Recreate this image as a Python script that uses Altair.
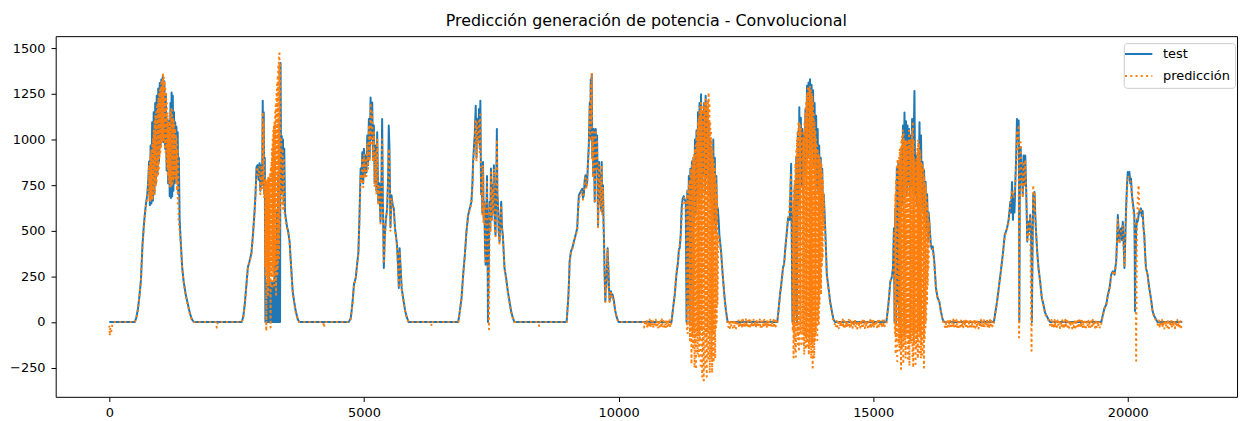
import altair as alt
import pandas as pd

TITLE = "Predicción generación de potencia - Convolucional"
SERIES = ["test", "predicción"]
COLORS = ["#1f77b4", "#ff7f0e"]
X_TICKS = [0, 5000, 10000, 15000, 20000]
Y_TICKS = [-250, 0, 250, 500, 750, 1000, 1250, 1500]

# ---------------- test (blue): (x, y) readings ----------------
test_d1 = [(0,0),(500,0),(530,25),(560,70),(590,140),(620,230),(650,420),(680,540),(700,600),(720,650),(745,700),(765,780),(780,880),
           (795,640),(810,968),(825,650),(840,1095),(855,665),(870,1150),(885,700),(900,1200),(915,760),(930,1240),(945,810),(960,1280),
           (975,880),(990,1310),(1005,960),(1020,1330),(1035,990),(1050,1349),(1065,985),(1080,1320),(1095,950),(1110,1250),(1125,830),
           (1140,1110),(1155,760),(1170,1100),(1185,690),(1200,1200),(1210,680),(1222,1258),(1234,690),(1246,1240),(1258,720),(1270,1150),
           (1282,760),(1294,1095),(1306,770),(1318,1070),(1330,786),(1342,1040),(1354,700),(1365,900),(1380,560),(1400,450),(1430,300),
           (1460,220),(1500,150),(1540,100),(1580,50),(1620,15),(1660,0)]
test_d2 = [(2600,0),(2630,30),(2660,100),(2690,200),(2720,300),(2750,330),(2790,380),(2820,480),(2850,600),(2870,700),(2890,850),
           (2910,860),(2930,780),(2950,870),(2965,720),(2985,860),(3000,750),(3012,1213),(3022,800),(3032,1150),(3042,700),(3052,900),
           (3064,0),(3076,220),(3088,0),(3100,210),(3112,0),(3124,760),(3136,0),(3148,230),(3160,0),(3172,200),(3184,0),(3196,220),
           (3208,0),(3220,210),(3232,0),(3244,300),(3256,0),(3268,400),(3280,0),(3292,600),(3304,0),(3316,800),(3328,0),(3340,1100),
           (3352,0),(3362,1420),(3372,800),(3385,1020),(3398,700),(3410,1000),(3422,650),(3435,950),(3450,600),(3470,560),(3490,520),
           (3510,500),(3540,440),(3570,300),(3600,170),(3630,110),(3660,60),(3700,15),(3730,0)]
test_d3 = [(4700,0),(4740,20),(4773,100),(4805,210),(4838,240),(4870,330),(4890,380),(4910,560),(4935,841),(4950,780),(4968,931),
           (4985,760),(5000,950),(5015,800),(5032,913),(5048,820),(5065,1022),(5080,860),(5097,1113),(5113,900),(5130,1231),(5145,1000),
           (5162,1204),(5178,900),(5195,1077),(5210,760),(5228,968),(5244,720),(5260,1040),(5280,659),(5300,760),(5325,550),(5345,800),
           (5357,1113),(5370,700),(5390,296),(5410,477),(5430,560),(5455,623),(5475,800),(5487,1077),(5500,960),(5520,520),(5540,695),
           (5565,640),(5585,623),(5610,514),(5630,470),(5650,423),(5670,300),(5685,187),(5700,405),(5714,330),(5740,187),(5779,114),
           (5810,60),(5844,24),(5877,0)]
test_d4 = [(6851,0),(6883,60),(6916,132),(6948,260),(6981,368),(7013,496),(7046,586),(7078,623),(7110,659),(7130,760),(7143,877),
           (7160,960),(7175,1022),(7195,1186),(7210,900),(7221,1113),(7240,1000),(7260,1168),(7275,950),(7286,1213),(7300,700),(7312,804),
           (7325,600),(7338,877),(7352,550),(7364,659),(7378,400),(7390,314),(7405,600),(7416,800),(7428,400),(7435,0),(7450,300),
           (7468,659),(7481,500),(7494,841),(7507,560),(7520,750),(7536,600),(7552,859),(7568,550),(7584,477),(7597,700),(7610,1058),
           (7620,700),(7630,659),(7646,500),(7662,441),(7680,560),(7695,659),(7710,520),(7727,477),(7760,296),(7792,241),(7825,169),
           (7857,114),(7890,60),(7922,24),(7954,0)]
test_d5 = [(8980,0),(9000,80),(9013,132),(9030,250),(9039,332),(9065,387),(9091,405),(9123,441),(9156,477),(9188,514),(9205,620),
           (9221,695),(9253,713),(9286,731),(9300,680),(9318,695),(9335,780),(9350,804),(9365,740),(9383,768),(9400,880),(9415,968),
           (9435,1204),(9445,1000),(9454,1331),(9464,1100),(9474,1360),(9484,900),(9493,1022),(9503,800),(9513,1058),(9522,850),
           (9532,659),(9542,900),(9552,1058),(9565,850),(9578,1022),(9590,700),(9597,532),(9607,700),(9617,877),(9630,650),(9643,804),
           (9656,620),(9669,877),(9680,600),(9694,750),(9704,560),(9714,441),(9727,250),(9740,114),(9750,200),(9759,187),(9772,300),
           (9785,405),(9795,330),(9805,260),(9815,170),(9824,114),(9837,150),(9850,169),(9866,140),(9883,150),(9909,114),(9935,60),
           (9967,24),(9999,0)]
test_d6 = [(11039,0),(11071,78),(11104,150),(11136,260),(11169,332),(11185,400),(11201,405),(11220,477),(11240,630),(11260,677),
           (11280,690),(11300,670),(11320,660),(11335,0),(11350,720),(11365,100),(11380,800),(11395,0),(11410,840),(11425,200),
           (11440,880),(11455,0),(11470,900),(11485,550),(11500,1000),(11515,600),(11530,1050),(11545,700),(11560,1150),(11575,650),
           (11590,1200),(11605,750),(11620,1249),(11635,700),(11650,1150),(11665,800),(11680,1200),(11695,700),(11710,1240),(11725,800),
           (11740,1180),(11755,750),(11770,1100),(11785,700),(11800,1000),(11815,650),(11830,950),(11845,600),(11860,1000),(11875,550),
           (11890,900),(11905,500),(11920,800),(11935,550),(11950,623),(11965,560),(11980,477),(12013,387),(12045,260),(12077,150),
           (12110,60),(12142,0)]
test_d7 = [(13116,0),(13140,60),(13170,150),(13200,220),(13230,300),(13250,314),(13270,390),(13300,480),(13330,570),(13360,560),
           (13389,868),(13400,500),(13415,0),(13430,600),(13445,0),(13460,750),(13475,50),(13490,900),(13505,0),(13520,1040),
           (13535,650),(13550,1177),(13565,700),(13580,1120),(13595,750),(13610,1058),(13625,700),(13640,1022),(13655,800),(13670,1168),
           (13685,850),(13700,1295),(13715,900),(13730,1313),(13745,950),(13760,1331),(13775,900),(13790,1300),(13805,950),(13820,1270),
           (13835,850),(13850,1200),(13865,800),(13880,1131),(13895,750),(13910,1058),(13925,700),(13940,968),(13955,650),(13970,900),
           (13985,600),(14000,840),(14015,560),(14030,700),(14045,600),(14058,514),(14090,260),(14123,187),(14155,114),(14188,60),
           (14220,15),(14252,0)]
test_d8 = [(15259,0),(15285,60),(15311,132),(15337,223),(15363,241),(15389,296),(15408,514),(15420,0),(15435,623),(15450,0),
           (15465,840),(15480,100),(15495,880),(15510,0),(15525,870),(15540,600),(15555,950),(15570,650),(15585,1077),(15600,700),
           (15615,1149),(15630,750),(15645,1100),(15660,700),(15675,1077),(15690,750),(15705,1058),(15720,700),(15735,1022),(15750,750),
           (15765,1113),(15780,700),(15795,986),(15811,1267),(15825,700),(15840,913),(15855,650),(15870,860),(15885,700),(15900,900),
           (15910,1095),(15925,700),(15940,1022),(15955,650),(15970,877),(15985,600),(16000,830),(16015,550),(16030,768),(16045,500),
           (16060,700),(16075,450),(16090,600),(16103,550),(16130,430),(16150,400),(16170,414),(16200,332),(16233,187),(16265,132),
           (16298,114),(16330,60),(16363,15),(16395,0)]
test_d9 = [(17370,0),(17434,114),(17499,260),(17545,368),(17584,477),(17629,514),(17660,560),(17694,659),(17710,600),(17727,768),
           (17745,560),(17760,700),(17775,600),(17792,768),(17808,900),(17824,1113),(17840,1000),(17857,1104),(17864,900),(17870,0),
           (17880,700),(17896,960),(17910,850),(17922,804),(17938,700),(17954,913),(17970,750),(17987,913),(17997,800),(18006,713),
           (18015,600),(18026,441),(18040,500),(18052,550),(18068,500),(18084,586),(18100,480),(18112,300),(18117,0),(18130,400),
           (18143,700),(18155,600),(18169,713),(18182,600),(18195,514),(18208,450),(18221,387),(18247,296),(18279,223),(18312,132),
           (18344,96),(18376,51),(18441,15),(18474,0)]
test_d10 = [(19480,0),(19513,42),(19545,78),(19578,96),(19610,150),(19642,187),(19675,260),(19707,278),(19740,260),(19772,332),
            (19790,450),(19805,586),(19820,500),(19837,441),(19855,500),(19870,514),(19885,450),(19902,550),(19920,420),(19935,296),
            (19950,450),(19967,623),(19985,750),(20000,822),(20015,800),(20032,822),(20048,760),(20064,786),(20080,700),(20097,659),
            (20115,620),(20129,586),(20136,400),(20142,60),(20150,300),(20165,500),(20180,560),(20194,550),(20210,580),(20227,608),
            (20245,600),(20259,623),(20275,580),(20292,608),(20308,520),(20324,477),(20340,380),(20357,296),(20389,260),(20422,187),
            (20454,132),(20487,60),(20519,33),(20584,0),(21071,0)]

# ---------------- predicción (orange) ----------------
# explicit (x, y) readings
pred_d1a = [(0,-20),(8,-75),(20,-30),(40,-50),(60,-10),(100,0),(500,0),(530,20),(560,65),(590,135),(620,225),(650,410),(680,530),
            (700,590),(720,640),(745,690),(765,770),(780,860)]
pred_d1b = [(1380,500),(1400,440),(1430,290),(1460,215),(1500,140),(1540,95),(1580,45),(1620,10),(1660,0),
            (2090,0),(2110,-31),(2130,0)]
pred_d2a = [(2600,0),(2630,25),(2660,95),(2690,195),(2720,290),(2750,325),(2790,375),(2820,470),(2850,590),(2870,690),(2890,820),
            (2910,850),(2930,800),(2950,850),(2965,700),(2985,840),(3000,730),(3012,1150),(3022,760),(3032,1100),(3042,680),(3052,780)]
pred_d2b = [(3390,650),(3402,950),(3414,620),(3426,900),(3440,600),(3455,580),(3470,540),(3490,510),(3510,490),(3540,430),
            (3570,290),(3600,160),(3630,100),(3660,50),(3700,10),(3730,0),(4200,0),(4215,-30),(4230,0)]
pred_d3 = [(4700,0),(4740,15),(4773,95),(4805,200),(4838,235),(4870,320),(4890,370),(4910,540),(4935,800),(4950,760),(4968,900),
           (4985,740),(5000,920),(5015,790),(5032,900),(5048,800),(5065,980),(5080,840),(5097,1080),(5113,880),(5130,1200),(5145,980),
           (5162,1150),(5178,880),(5195,1040),(5210,740),(5228,930),(5244,700),(5260,1000),(5280,640),(5300,740),(5325,540),(5345,760),
           (5357,1000),(5370,680),(5390,320),(5410,470),(5430,550),(5455,610),(5475,780),(5487,950),(5500,900),(5520,500),(5540,680),
           (5565,620),(5585,610),(5610,500),(5630,460),(5650,410),(5670,290),(5685,200),(5700,390),(5714,320),(5740,180),(5779,110),
           (5810,55),(5844,20),(5877,0),(6310,0),(6331,-22),(6350,0)]
pred_d4 = [(6851,0),(6883,55),(6916,125),(6948,250),(6981,360),(7013,490),(7046,580),(7078,615),(7110,650),(7130,740),(7143,850),
           (7160,930),(7175,1000),(7195,1100),(7210,880),(7221,1090),(7240,980),(7260,1100),(7275,930),(7286,1150),(7300,690),
           (7312,790),(7325,590),(7338,860),(7352,540),(7364,650),(7378,390),(7390,320),(7405,590),(7416,780),(7428,390),(7440,150),
           (7455,-40),(7468,640),(7481,490),(7494,820),(7507,550),(7520,730),(7536,590),(7552,840),(7568,540),(7584,470),(7597,690),
           (7610,1000),(7620,690),(7630,650),(7646,490),(7662,430),(7680,550),(7695,640),(7710,510),(7727,470),(7760,290),(7792,235),
           (7825,160),(7857,110),(7890,55),(7922,20),(7954,0),(8420,0),(8441,-22),(8460,0)]
pred_d5 = [(8980,0),(9000,75),(9013,125),(9030,240),(9039,320),(9065,380),(9091,400),(9123,435),(9156,470),(9188,505),(9205,600),
           (9221,680),(9253,700),(9286,720),(9300,670),(9318,690),(9335,770),(9350,790),(9365,730),(9383,760),(9400,860),(9415,950),
           (9435,1180),(9445,990),(9454,1310),(9464,1090),(9474,1367),(9484,890),(9493,1000),(9503,790),(9513,1040),(9522,840),
           (9532,650),(9542,890),(9552,1040),(9565,840),(9578,1000),(9590,690),(9597,520),(9607,690),(9617,860),(9630,640),(9643,790),
           (9656,610),(9669,860),(9680,590),(9694,740),(9704,550),(9714,430),(9727,240),(9740,110),(9750,190),(9759,180),(9772,290),
           (9785,400),(9795,320),(9805,250),(9815,165),(9824,110),(9837,145),(9850,165),(9866,135),(9883,145),(9909,110),(9935,55),
           (9967,20),(9999,0),(10490,0)]
pred_d6a = [(11040,0),(11070,70),(11100,150),(11130,250),(11165,330),(11200,420),(11225,480),(11245,600),(11265,660),(11290,680),
            (11310,650),(11328,600)]
pred_d6b = [(11960,480),(11975,450),(11990,420),(12013,380),(12045,250),(12077,140),(12110,50),(12142,-10)]
pred_d7a = [(13116,-10),(13140,50),(13170,140),(13200,210),(13230,290),(13260,330),(13290,450),(13320,550),(13350,600),(13389,820),
            (13400,480)]
pred_d7b = [(14058,500),(14090,250),(14123,180),(14155,100),(14188,50),(14220,0),(14252,-15)]
pred_d8a = [(15259,-10),(15285,55),(15311,130),(15337,220),(15363,240),(15389,290),(15408,500)]
pred_d8b = [(16103,550),(16130,420),(16150,410),(16170,400),(16200,320),(16233,180),(16265,130),(16298,110),(16330,55),(16363,10),
            (16395,-15)]
pred_d9 = [(17370,-10),(17434,110),(17499,255),(17545,360),(17584,470),(17629,510),(17660,550),(17694,650),(17727,720),(17760,680),
           (17792,760),(17808,850),(17824,1050),(17840,950),(17857,1080),(17866,-85),(17880,600),(17896,986),(17910,820),(17922,804),
           (17938,680),(17954,880),(17970,740),(17987,890),(18006,700),(18026,450),(18040,480),(18052,540),(18068,480),(18084,580),
           (18110,-158),(18125,300),(18143,750),(18155,620),(18169,700),(18182,580),(18195,510),(18221,380),(18247,290),(18279,220),
           (18312,130),(18344,90),(18376,45),(18441,10),(18474,-15)]
pred_d10 = [(19480,-10),(19513,40),(19545,75),(19578,95),(19610,145),(19642,180),(19675,250),(19707,270),(19740,255),(19772,320),
            (19805,560),(19820,480),(19837,430),(19870,500),(19902,530),(19935,310),(19967,600),(20000,800),(20032,790),(20064,760),
            (20097,640),(20129,560),(20150,400),(20165,-212),(20180,500),(20200,700),(20214,750),(20227,600),(20259,610),(20292,590),
            (20324,470),(20357,290),(20389,255),(20422,180),(20454,125),(20487,55),(20519,30),(20584,-10)]

# dense stretches: readings at evenly spaced samples (start x, spacing, y readings)
band_d1 = (790, 7.5, [660, 900, 665, 920, 670, 950, 675, 980, 680, 1010, 690, 1050,
                      700, 1100, 720, 1130, 740, 1150, 760, 1180, 790, 1200, 810, 1230, 830, 1250,
                      900, 1270, 930, 1290, 960, 1310, 980, 1330, 1000, 1367, 1000, 1340,
                      990, 1320, 960, 1290, 930, 1250, 880, 1200, 840, 1150, 800, 1100,
                      780, 1050, 750, 1100, 730, 1150, 740, 1180, 745, 1160, 760, 1120,
                      780, 1100, 790, 1080, 800, 1060, 790, 1030, 760, 1000, 720, 950, 650, 880, 560])
band_d2 = (3058, 6, [300, 780, 250, 770, -50, 768, 300, 760, 220, 790, 150, 800, 280, 780,
                     200, 800, 260, 820, -30, 850, 300, 880, 250, 950, 180, 1000, 300, 1050,
                     250, 1080, 200, 1100, 320, 1150, 260, 1200, 150, 1250, 350, 1300, 250, 1350,
                     300, 1400, 400, 1450, 350, 1485, 500, 1420, 623, 1000, 700, 1000])
band_d6 = (11342, 7.5, [-40, 700, -60, 730, 20, 760, -20, 780, -100, 800, -50, 840,
                        -230, 860, -80, 880, -150, 900, -60, 920, -250, 950,
                        -120, 980, -260, 1000, -80, 1050, -180, 1100, -60, 1120, -200, 1150, -100, 1180, -240, 1200, -50, 1180,
                        -300, 1100, -150, 1150, -320, 1180, -80, 1200, -250, 1220, -120, 1200, -300, 1180, -60, 1220,
                        -200, 1258, -100, 1200, -280, 1100, -50, 1050, -200, 1000,
                        -280, 950, -60, 900, -220, 880, -100, 850, -200, 800, -30, 750, 0, 700, 100])
band_d7 = (13422, 7.5, [-50, 650, -195, 720, -100, 780, -150, 870, -190, 950, -60, 1000, -120, 1050,
                        -80, 1100, -150, 1090, -40, 1080, -60, 1060, -120, 1050, -90, 1020, -70, 1000,
                        -120, 1050, -180, 1100, -70, 1150, -150, 1200, -90, 1250, -130, 1280, -60, 1270, -180, 1290,
                        -130, 1290, -60, 1270, -200, 1260, -120, 1240, -250, 1200, -100, 1150, -200, 1100, -100, 1050,
                        -60, 1000, -30, 980, -100, 950, 0, 930, -20, 913, 100, 900,
                        200, 880, 150, 870, 300, 820, 350, 780, 500, 700, 600])
band_d8 = (15427, 7.5, [-60, 700, -176, 780, -100, 850, -215, 895, -60, 880, -120, 900, -160, 950, -90, 960,
                        -258, 1000, -150, 1020, -80, 1050, -230, 1030, -120, 1000, -100, 990, -200, 1000, -60, 980,
                        -80, 960, -200, 1000, -150, 1050, -240, 1000, -100, 950, -120, 1000, -60, 1050, -200, 1100,
                        -250, 1000, -130, 900, -60, 870, -230, 840, -150, 900, -100, 950, -200, 1000, -50, 980,
                        -180, 950, -80, 920, -200, 870, -120, 860, -180, 859, -60, 840, -250, 800, -100, 768,
                        -30, 740, 0, 695, 100, 650, 200, 600, 300])
# night-time prediction noise (start x, spacing, y readings)
night_1 = (10506, 15, [-30, 8, -22, 12, -35, 3, -26, 14, -31, 6, -18, 10, -33, 2, -27, 13, -24, 7, -36, 11,
                       -29, 4, -21, 15, -32, 5, -25, 9, -34, 12, -28, 3, -23, 10, -30])
night_2 = (12157, 15, [-28, 10, -33, 5, -24, 13, -31, 2, -26, 11, -35, 7, -22, 14, -30, 4, -27, 9, -34, 12,
                       -25, 3, -32, 15, -29, 6, -23, 10, -36, 8, -27, 2, -31, 13, -24, 5, -33, 11, -28, 7,
                       -21, 14, -35, 3, -26, 9, -30, 12, -25, 4, -34, 10, -29, 6, -22, 13, -32, 2, -27, 11,
                       -31, 8, -24, 5])
night_3 = (14267, 15, [-31, 6, -25, 12, -34, 3, -28, 10, -22, 14, -33, 5, -26, 9, -30, 2, -24, 13, -35, 7,
                       -27, 11, -32, 4, -23, 15, -29, 6, -36, 10, -25, 3, -31, 12, -28, 8, -21, 14, -33, 5,
                       -26, 9, -30, 2, -24, 11, -34, 7, -27, 13, -32, 4, -22, 10, -29, 6, -35, 12, -25, 3,
                       -31, 9, -28, 14, -23, -10])
night_4 = (16410, 15, [-27, 9, -33, 4, -24, 12, -30, 7, -35, 2, -26, 14, -31, 6, -22, 11, -34, 3, -28, 13,
                       -25, 8, -32, 5, -29, 10, -23, 15, -36, 4, -27, 12, -30, 6, -24, 9, -33, 2, -26, 14,
                       -31, 7, -21, 11, -35, 5, -28, 13, -25, 3, -32, 10, -29, 8, -23, 12, -34, 4, -27, 11,
                       -30, 6, -24, -5])
night_5 = (18489, 15, [-29, 11, -34, 5, -25, 13, -31, 3, -27, 9, -22, 14, -33, 6, -28, 10, -36, 2, -24, 12,
                       -30, 7, -26, 15, -32, 4, -23, 11, -35, 8, -28, 3, -31, 13, -25, 6, -33, 10, -21, 14,
                       -29, 5, -34, 9, -26, 2, -30, 12, -24, 7, -32, 11, -27, 4, -35, 13, -23, 8, -31, 3,
                       -28, 10, -25, 6, -30, -8])
night_6 = (20599, 15, [-28, 9, -32, 4, -25, 12, -30, 6, -35, 11, -24, 3, -29, 14, -33, 7, -26, 10, -31, 2,
                       -23, 13, -34, 5, -27, 11, -30, 8, -25, 4, -29, -12])


def sampled(block):
    x0, dx, ys = block
    return [(x0 + dx * i, y) for i, y in enumerate(ys)]


test_points = test_d1 + test_d2 + test_d3 + test_d4 + test_d5 + test_d6 + test_d7 + test_d8 + test_d9 + test_d10
pred_points = (pred_d1a + sampled(band_d1) + pred_d1b + pred_d2a + sampled(band_d2) + pred_d2b + pred_d3 + pred_d4
               + pred_d5 + sampled(night_1) + pred_d6a + sampled(band_d6) + pred_d6b + sampled(night_2)
               + pred_d7a + sampled(band_d7) + pred_d7b + sampled(night_3) + pred_d8a + sampled(band_d8) + pred_d8b
               + sampled(night_4) + pred_d9 + sampled(night_5) + pred_d10 + sampled(night_6))

test_df = pd.DataFrame(test_points, columns=["x", "y"]).assign(serie=SERIES[0])
pred_df = pd.DataFrame(pred_points, columns=["x", "y"]).assign(serie=SERIES[1])

FONT = "DejaVu Sans"
legend = alt.Legend(orient="none", legendX=1075, legendY=7, title=None, padding=4.5, rowPadding=8,
                    labelFontSize=13, labelFont=FONT, labelColor="black",
                    symbolType="M-2.5,0H2.5", symbolSize=121, symbolStrokeWidth=2,
                    symbolOffset=4, labelOffset=18,
                    strokeColor="#cccccc", fillColor="rgba(255,255,255,0.8)", cornerRadius=3)

x_enc = alt.X("x:Q", scale=alt.Scale(domain=[-1054, 22146], nice=False, zero=False),
              axis=alt.Axis(values=X_TICKS, format="d", title=None, grid=False, domain=False,
                            tickSize=4.7, tickColor="black", tickWidth=1, labelFontSize=13,
                            labelFont=FONT, labelColor="black", labelPadding=4.7))
y_enc = alt.Y("y:Q", scale=alt.Scale(domain=[-410, 1567], nice=False, zero=False),
              axis=alt.Axis(values=Y_TICKS, format="d", title=None, grid=False, domain=False,
                            tickSize=4.7, tickColor="black", tickWidth=1, labelFontSize=13,
                            labelFont=FONT, labelColor="black", labelPadding=6))
color_enc = alt.Color("serie:N", scale=alt.Scale(domain=SERIES, range=COLORS), legend=legend)
dash_enc = alt.StrokeDash("serie:N", scale=alt.Scale(domain=SERIES, range=[[1, 0], [2, 3.3]]), legend=legend)

test_line = alt.Chart(test_df).mark_line(strokeWidth=2, strokeJoin="round", strokeCap="butt").encode(
    x=x_enc, y=y_enc, color=color_enc, strokeDash=dash_enc)
pred_line = alt.Chart(pred_df).mark_line(strokeWidth=2, strokeJoin="round", strokeCap="butt").encode(
    x=x_enc, y=y_enc, color=color_enc, strokeDash=dash_enc)

chart = alt.layer(test_line, pred_line).properties(
    width=1189, height=363,
    background="white",
    title=alt.TitleParams(TITLE, fontSize=16, font=FONT, fontWeight="normal", color="black",
                          anchor="middle", offset=7),
    autosize=alt.AutoSizeParams(type="none"),
    padding={"left": 48, "top": 27, "right": 7, "bottom": 22},
).configure_view(stroke="black", strokeWidth=1)

chart.save("out.html", embed_options={"renderer": "svg", "actions": False})
